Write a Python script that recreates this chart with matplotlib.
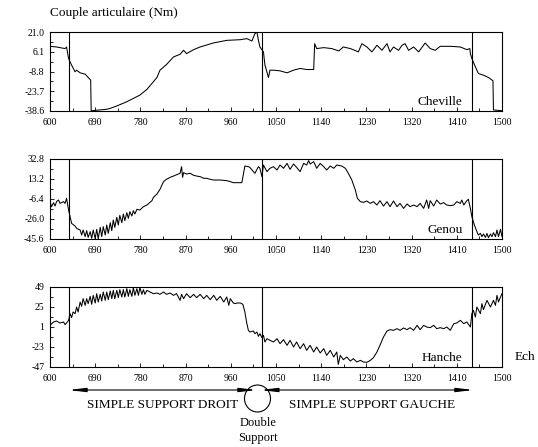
import numpy as np
import matplotlib
matplotlib.use('Agg')
import matplotlib.pyplot as plt
from matplotlib.patches import Ellipse

plt.rcParams['font.family'] = ['Liberation Serif', 'DejaVu Serif']

# Cheville (ankle) torque, Nm
chev_x = [600, 613, 630, 633, 637, 643, 650, 653, 660, 670, 676, 681, 682, 693, 713, 720,
          733, 753, 766, 779, 793, 803, 813, 819, 832, 846, 859, 866, 872, 886, 899, 925,
          952, 979, 992, 1002, 1008, 1012, 1015, 1018, 1025, 1028, 1035, 1038, 1045, 1058,
          1072, 1085, 1098, 1111, 1125, 1127, 1131, 1145, 1161, 1175, 1184, 1198, 1214,
          1221, 1231, 1241, 1251, 1261, 1271, 1277, 1284, 1294, 1301, 1307, 1314, 1324,
          1334, 1347, 1357, 1367, 1377, 1397, 1417, 1430, 1436, 1437, 1440, 1447, 1453,
          1463, 1473, 1482, 1483, 1497, 1500]
chev_y = [10.2, 9.7, 8.5, 9.7, 1.0, -4.0, -9.0, -7.8, -9.8, -10.8, -13.3, -15.3, -38.5,
          -38.0, -37.3, -36.6, -34.8, -31.6, -29.1, -26.6, -22.3, -17.8, -13.3, -7.8, -3.5,
          2.2, 4.2, 7.2, 4.7, 7.7, 9.7, 12.7, 14.7, 15.2, 16.0, 14.2, 19.7, 21.0, 14.7, 9.7,
          6.0, -4.0, -13.3, -7.8, -7.8, -8.3, -9.8, -7.8, -6.5, -7.3, -7.3, 12.2, 8.5, 9.2,
          8.5, 6.7, 9.7, 8.5, 6.0, 12.2, 9.7, 6.0, 11.0, 7.2, 12.2, 6.0, 9.7, 7.2, 11.0,
          12.2, 7.2, 9.7, 6.0, 12.7, 8.5, 7.2, 10.2, 10.2, 9.7, 7.7, 8.5, 4.7, 1.0, -5.3,
          -10.3, -11.6, -13.3, -15.8, -37.8, -38.3, -38.3]

# Genou (knee) torque, Nm
gen_x = [600, 603, 607, 610, 613, 617, 620, 627, 630, 633, 637, 640, 643, 650, 653, 660,
         663, 666, 670, 673, 676, 680, 683, 686, 690, 693, 696, 700, 703, 706, 710, 713,
         716, 720, 723, 726, 729, 733, 736, 739, 743, 746, 749, 753, 756, 759, 763, 766,
         769, 773, 779, 786, 793, 803, 806, 813, 819, 826, 832, 839, 846, 852, 859, 862,
         864, 866, 872, 879, 886, 892, 899, 906, 912, 919, 926, 939, 952, 959, 965, 972,
         982, 988, 995, 998, 1005, 1008, 1015, 1018, 1022, 1025, 1032, 1038, 1045, 1052,
         1058, 1065, 1072, 1078, 1085, 1091, 1098, 1105, 1111, 1115, 1118, 1125, 1131,
         1138, 1145, 1151, 1158, 1165, 1171, 1181, 1188, 1194, 1201, 1208, 1212, 1218,
         1224, 1231, 1238, 1244, 1251, 1257, 1264, 1271, 1277, 1284, 1291, 1297, 1304,
         1311, 1317, 1324, 1331, 1337, 1344, 1350, 1354, 1357, 1364, 1370, 1377, 1384,
         1390, 1397, 1404, 1410, 1417, 1420, 1424, 1430, 1433, 1437, 1440, 1445, 1450,
         1453, 1457, 1460, 1463, 1467, 1470, 1473, 1477, 1480, 1483, 1487, 1490, 1493,
         1497, 1500]
gen_y = [-9.0, -13.9, -10.0, -13.3, -9.0, -7.4, -10.7, -9.0, -10.7, -5.7, -17.2, -23.7,
         -30.3, -32.9, -35.2, -36.8, -41.7, -36.8, -43.3, -37.4, -44.0, -38.4, -44.9, -36.8,
         -45.3, -36.1, -45.3, -34.2, -43.3, -33.5, -41.7, -31.9, -40.1, -29.6, -37.4, -27.0,
         -34.2, -24.4, -31.9, -22.4, -29.6, -21.1, -27.6, -19.8, -25.4, -18.8, -23.1, -17.8,
         -21.1, -16.5, -17.2, -13.9, -12.3, -8.0, -4.8, -1.5, 3.1, 10.6, 12.9, 14.8, 16.1,
         17.4, 18.8, 25.3, 14.8, 19.4, 18.1, 18.8, 16.8, 16.1, 15.5, 13.9, 13.9, 12.9, 12.2,
         12.2, 11.6, 10.6, 9.6, 9.6, 9.6, 25.9, 25.3, 24.6, 20.4, 18.8, 25.3, 23.7, 15.5,
         26.9, 20.4, 23.7, 25.3, 22.0, 26.9, 23.7, 28.5, 22.7, 27.9, 24.6, 20.4, 28.5, 26.9,
         31.2, 27.9, 30.2, 23.7, 28.5, 25.3, 22.0, 25.9, 23.7, 26.9, 25.9, 23.7, 18.8, 12.2,
         2.4, -5.7, -9.0, -9.7, -8.4, -10.7, -9.0, -12.3, -8.0, -13.3, -9.0, -13.9, -8.4,
         -13.9, -10.7, -15.6, -11.3, -13.9, -12.3, -13.9, -10.7, -15.6, -7.4, -15.6, -8.0,
         -13.3, -7.4, -11.3, -10.0, -12.3, -12.9, -12.3, -9.0, -10.7, -7.4, -12.3, -8.0,
         -6.7, -15.6, -23.7, -31.9, -38.4, -41.7, -40.1, -43.3, -40.7, -44.0, -40.1, -44.3,
         -40.7, -43.3, -39.4, -43.3, -36.8, -43.3, -36.1, -43.3]

# Hanche (hip) torque, Nm
han_x = [600, 607, 613, 620, 627, 630, 633, 637, 640, 643, 646, 650, 653, 656, 660, 663,
         666, 670, 673, 676, 680, 683, 686, 690, 693, 696, 700, 703, 706, 710, 713, 716,
         720, 723, 726, 729, 733, 736, 739, 743, 746, 749, 753, 756, 759, 763, 766, 769,
         773, 776, 779, 783, 786, 789, 793, 799, 806, 813, 819, 826, 832, 839, 846, 852,
         859, 862, 866, 872, 879, 886, 892, 899, 906, 912, 919, 926, 932, 939, 946, 952,
         956, 959, 965, 969, 972, 979, 984, 988, 992, 995, 998, 1005, 1008, 1012, 1015,
         1018, 1022, 1025, 1028, 1032, 1038, 1045, 1052, 1058, 1065, 1072, 1078, 1085,
         1091, 1098, 1105, 1111, 1118, 1125, 1131, 1138, 1145, 1151, 1158, 1165, 1171,
         1174, 1178, 1184, 1191, 1198, 1204, 1211, 1218, 1224, 1231, 1238, 1244, 1251,
         1257, 1264, 1271, 1277, 1284, 1291, 1297, 1304, 1311, 1317, 1324, 1331, 1337,
         1344, 1350, 1357, 1364, 1370, 1377, 1384, 1390, 1397, 1404, 1410, 1417, 1424,
         1430, 1437, 1440, 1443, 1447, 1450, 1457, 1460, 1463, 1470, 1477, 1483, 1487,
         1490, 1493, 1497, 1500]
han_y = [3.0, 7.0, 8.2, 5.8, 7.0, 3.8, 5.8, 9.0, 17.0, 12.2, 19.0, 17.0, 25.0, 19.0, 31.0,
         25.8, 35.0, 27.0, 35.0, 29.0, 37.8, 28.2, 39.0, 29.8, 41.0, 31.0, 40.2, 32.2, 43.0,
         33.0, 43.0, 33.8, 44.2, 35.0, 45.0, 35.0, 45.0, 36.2, 45.8, 37.0, 45.8, 37.0, 47.0,
         37.8, 45.8, 37.8, 48.2, 39.0, 47.0, 39.0, 48.2, 40.2, 45.8, 40.2, 45.0, 43.0, 41.0,
         41.8, 40.2, 43.0, 40.2, 41.8, 39.0, 41.0, 33.0, 40.2, 35.0, 41.0, 36.2, 40.2, 36.2,
         40.2, 35.0, 39.0, 33.8, 39.0, 33.0, 37.8, 31.0, 37.0, 27.0, 35.0, 29.8, 29.0, 29.8,
         29.8, 28.2, 19.0, 5.0, -3.0, -5.0, -3.8, -7.0, -5.0, -10.2, -7.0, -11.8, -9.0,
         -17.0, -13.0, -15.0, -17.0, -13.0, -19.0, -14.2, -21.0, -15.0, -23.0, -17.0, -25.0,
         -19.0, -27.0, -21.0, -29.0, -23.0, -30.2, -25.0, -33.0, -27.0, -35.0, -29.0, -43.8,
         -33.0, -38.2, -35.0, -39.8, -37.0, -41.0, -39.0, -41.0, -41.4, -39.0, -35.8, -29.0,
         -21.0, -11.0, -3.8, -2.2, -3.0, -1.0, -3.0, -0.2, -2.2, 0.2, -3.0, 3.0, -2.2, 3.0,
         1.0, 0.2, 3.0, -1.0, 0.2, -1.0, 1.0, -3.0, 5.0, 5.8, 9.0, 5.0, 7.0, 1.0, 17.0,
         21.0, 13.0, 25.0, 17.0, 29.0, 21.8, 33.0, 25.0, 33.0, 27.0, 39.0, 31.0, 37.0, 41.0]

x_ticks = [600, 690, 780, 870, 960, 1050, 1140, 1230, 1320, 1410, 1500]
chev_ticks = [21.0, 6.1, -8.8, -23.7, -38.6]
gen_ticks = [32.8, 13.2, -6.4, -26.0, -45.6]
han_ticks = [49, 25, 1, -23, -47]
chev_labels = ['21.0', '6.1', '-8.8', '-23.7', '-38.6']
gen_labels = ['32.8', '13.2', '-6.4', '-26.0', '-45.6']
han_labels = ['49', '25', '1', '-23', '-47']
names = ['Cheville', 'Genou', 'Hanche']
events = [637, 1022, 1440]

fig = plt.figure(figsize=(5.38, 4.47), dpi=100)
W, H = 538.0, 447.0

def make_ax(top, bottom):
    return fig.add_axes([50 / W, 1 - bottom / H, 452 / W, (bottom - top) / H])

axes = [make_ax(32, 111), make_ax(159, 239), make_ax(287, 367)]
series = [(chev_x, chev_y, chev_ticks, chev_labels),
          (gen_x, gen_y, gen_ticks, gen_labels),
          (han_x, han_y, han_ticks, han_labels)]

for ax, (xs, ys, yt, yl), name in zip(axes, series, names):
    ax.plot(xs, ys, color='black', lw=0.75)
    for e in events:
        ax.axvline(e, color='black', lw=0.8)
    ax.set_xlim(600, 1500)
    ax.set_ylim(yt[-1], yt[0])
    ax.set_xticks(x_ticks)
    ax.set_xticklabels([str(t) for t in x_ticks])
    ax.set_xticks(np.arange(645, 1500, 90), minor=True)
    ax.set_yticks(yt)
    ax.set_yticklabels(yl)
    ax.set_yticks([(a + b) / 2 for a, b in zip(yt[:-1], yt[1:])], minor=True)
    ax.tick_params(which='both', direction='in', labelsize=7, width=0.6)
    ax.tick_params(which='major', length=3)
    ax.tick_params(which='minor', length=2)
    ax.tick_params(axis='x', pad=5)
    ax.tick_params(axis='y', pad=4)
    for s in ax.spines.values():
        s.set_linewidth(0.8)
    ax.text(0.913, 0.04, name, transform=ax.transAxes, ha='right', va='bottom', fontsize=9.5)

fig.text(50 / W, 1 - 13 / H, 'Couple articulaire (Nm)', ha='left', va='center', fontsize=9.5)
fig.text(515 / W, 1 - 357 / H, 'Ech', ha='left', va='center', fontsize=9.5)

# phases below the bottom panel
ax3 = axes[2]
arrow_y = H - 390
ap = dict(arrowstyle='<|-|>,head_length=1.0,head_width=0.12', color='black', lw=0.8,
          shrinkA=0, shrinkB=0, mutation_scale=10)
ax3.annotate('', xy=(637, arrow_y), xytext=(1011, arrow_y),
             xycoords=('data', 'figure pixels'), textcoords=('data', 'figure pixels'),
             arrowprops=ap, annotation_clip=False)
ax3.annotate('', xy=(1019, arrow_y), xytext=(1443, arrow_y),
             xycoords=('data', 'figure pixels'), textcoords=('data', 'figure pixels'),
             arrowprops=ap, annotation_clip=False)
fig.add_artist(Ellipse((257.5 / W, 1 - 398.5 / H), 26 / W, 27 / H, transform=fig.transFigure,
                       fill=False, edgecolor='black', lw=0.8))
fig.text(163 / W, 1 - 405 / H, 'SIMPLE SUPPORT DROIT', ha='center', va='center', fontsize=9.5)
fig.text(372 / W, 1 - 405 / H, 'SIMPLE SUPPORT GAUCHE', ha='center', va='center', fontsize=9.5)
fig.text(258 / W, 1 - 423 / H, 'Double', ha='center', va='center', fontsize=9)
fig.text(258 / W, 1 - 438 / H, 'Support', ha='center', va='center', fontsize=9)

fig.savefig('out.png', dpi=100)
